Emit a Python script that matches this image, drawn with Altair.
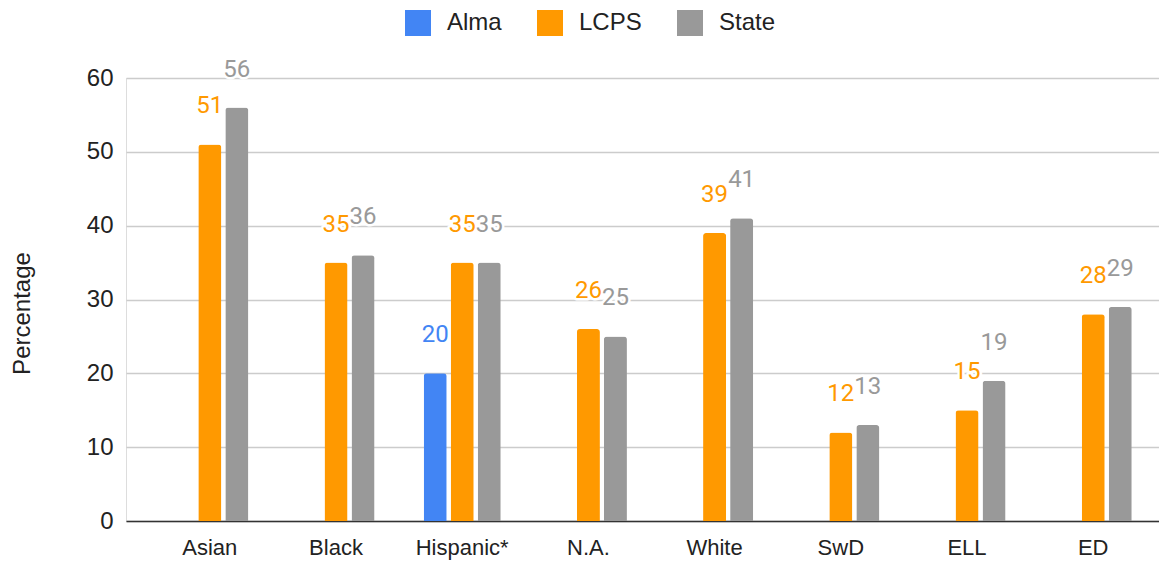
import altair as alt
import pandas as pd

categories = ["Asian", "Black", "Hispanic*", "N.A.", "White", "SwD", "ELL", "ED"]
series = ["Alma", "LCPS", "State"]
alma = [None, None, 20, None, None, None, None, None]
lcps = [51, 35, 35, 26, 39, 12, 15, 28]
state = [56, 36, 35, 25, 41, 13, 19, 29]
colors = ["#4285F4", "#FF9900", "#999999"]
y_ticks = [0, 10, 20, 30, 40, 50, 60]

rows = []
for name, vals in zip(series, [alma, lcps, state]):
    for c, v in zip(categories, vals):
        if v is not None:
            rows.append({"cat": c, "series": name, "value": v})
df = pd.DataFrame(rows)

x_enc = alt.X("cat:N", sort=categories,
              scale=alt.Scale(range=[0, 1051], paddingInner=0.3, paddingOuter=0.314),
              axis=alt.Axis(title=None, labelAngle=0, labelFont="Liberation Sans",
                            labelFontSize=22, labelColor="#222222", labelPadding=16,
                            ticks=False, domain=True, domainColor="#333333",
                            domainWidth=1.5, grid=False))
xoff_enc = alt.XOffset("series:N", scale=alt.Scale(domain=series, paddingInner=0.148,
                                                    paddingOuter=0.209))
y_enc = alt.Y("value:Q", scale=alt.Scale(domain=[0, 60], nice=False),
              axis=alt.Axis(title="Percentage", values=y_ticks, labelFont="Liberation Sans",
                            labelFontSize=24, labelColor="#222222", labelPadding=13,
                            ticks=False, domain=False, gridColor="#cccccc", gridWidth=1.5,
                            titleFont="Liberation Sans", titleFontSize=24,
                            titleFontWeight="normal", titleColor="#222222",
                            titleX=-97, titleY=235, titleAngle=-90,
                            titleAlign="center", titleBaseline="alphabetic"))
color_enc = alt.Color("series:N", scale=alt.Scale(domain=series, range=colors),
                      legend=alt.Legend(title=None, orient="none", direction="horizontal",
                                        legendX=279, legendY=-68, symbolType="square",
                                        symbolSize=676, symbolStrokeWidth=0,
                                        symbolOpacity=1,
                                        labelFont="Liberation Sans", labelFontSize=24,
                                        labelColor="#222222", labelOffset=16,
                                        columnPadding=35))

base = alt.Chart(df).encode(x=x_enc, xOffset=xoff_enc, y=y_enc)

bars = base.mark_bar(cornerRadiusTopLeft=3, cornerRadiusTopRight=3).encode(color=color_enc)

halo = base.mark_text(font="Roboto", fontSize=24, baseline="alphabetic", dy=-31,
                      stroke="white", strokeWidth=5, strokeJoin="round", fill="white").encode(
    text=alt.Text("value:Q"))
labels = base.mark_text(font="Roboto", fontSize=24, baseline="alphabetic", dy=-31).encode(
    text=alt.Text("value:Q"),
    color=alt.Color("series:N", scale=alt.Scale(domain=series, range=colors), legend=None))

chart = alt.layer(bars, halo, labels).properties(
    width=1033, height=443,
    autosize=alt.AutoSizeParams(type="none"),
    padding={"left": 118, "top": 70, "right": 0, "bottom": 41},
).configure_view(stroke=None).configure(background="white")

chart.save("out.html", embed_options={"renderer": "svg", "actions": False})
